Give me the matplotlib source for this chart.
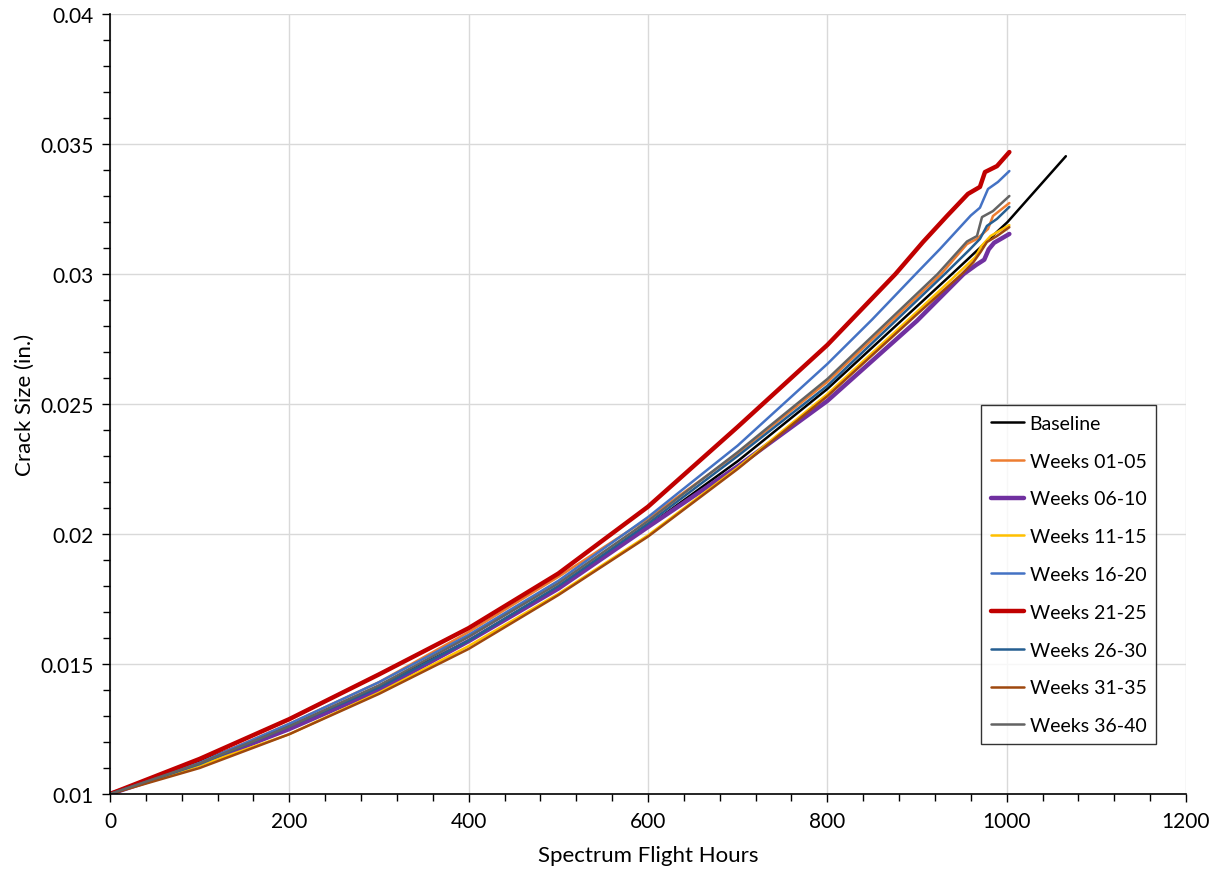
import matplotlib
matplotlib.use("Agg")
import matplotlib.pyplot as plt
from matplotlib.ticker import MultipleLocator, FuncFormatter

plt.rcParams["font.family"] = ["Lato", "DejaVu Sans"]

# Crack growth curves: spectrum flight hours vs. crack size (in.)
series_names = ["Baseline", "Weeks 01-05", "Weeks 06-10", "Weeks 11-15", "Weeks 16-20",
                "Weeks 21-25", "Weeks 26-30", "Weeks 31-35", "Weeks 36-40"]
series_colors = ["#000000", "#ED7D31", "#7030A0", "#FFC000", "#4472C4",
                 "#C00000", "#255E91", "#9E480E", "#636363"]
series_widths = [1.8, 1.8, 3.2, 1.8, 1.8, 3.2, 1.8, 1.8, 1.8]

baseline_hours = [0, 100, 200, 300, 400, 500, 600, 700, 800, 939, 1001, 1066]
baseline_crack = [0.0100, 0.01125, 0.0126, 0.01415, 0.0159, 0.01795, 0.0203, 0.0228,
                  0.02558, 0.0300, 0.0320, 0.03453]

wk01_hours = [0, 100, 200, 300, 400, 500, 600, 700, 800, 927, 955.7, 966.9, 979.2, 984.7, 1003]
wk01_crack = [0.0100, 0.0112, 0.0127, 0.0143, 0.01623, 0.01835, 0.0206, 0.0231, 0.02585,
              0.0300, 0.03115, 0.03135, 0.03173, 0.03223, 0.03273]

wk06_hours = [0, 100, 200, 300, 400, 500, 600, 700, 800, 900, 952, 966, 975, 980, 986, 1003]
wk06_crack = [0.0100, 0.01115, 0.0125, 0.0140, 0.01588, 0.0179, 0.02027, 0.0226, 0.02512,
              0.0282, 0.0300, 0.03035, 0.03055, 0.03095, 0.0312, 0.03154]

wk11_hours = [0, 100, 200, 300, 400, 500, 600, 700, 800, 900, 945, 965, 972, 982, 1003]
wk11_crack = [0.0100, 0.0111, 0.0123, 0.0139, 0.01569, 0.0177, 0.01995, 0.02255, 0.02538,
              0.02855, 0.0300, 0.03065, 0.03108, 0.03146, 0.03188]

wk16_hours = [0, 100, 200, 300, 400, 500, 600, 700, 800, 850, 900, 925.6, 960, 970.2,
              979.2, 990.3, 1003]
wk16_crack = [0.0100, 0.0112, 0.0127, 0.0143, 0.01612, 0.0182, 0.02065, 0.0234, 0.02654,
              0.02825, 0.03005, 0.03096, 0.03225, 0.03255, 0.03327, 0.03354, 0.03396]

wk21_hours = [0, 100, 200, 300, 400, 500, 600, 700, 800, 876, 906.7, 933.4, 956.8, 970.2,
              975.8, 989.2, 1003]
wk21_crack = [0.0100, 0.01135, 0.01288, 0.0146, 0.01638, 0.01848, 0.02105, 0.02412, 0.02727,
              0.0300, 0.03123, 0.03223, 0.03308, 0.03335, 0.03392, 0.03415, 0.03469]

wk26_hours = [0, 100, 200, 300, 400, 500, 600, 700, 800, 931, 959, 970.2, 978, 989.2, 1003]
wk26_crack = [0.0100, 0.01115, 0.0126, 0.0141, 0.0159, 0.0180, 0.0204, 0.0230, 0.0257,
              0.0300, 0.03095, 0.03135, 0.03185, 0.03212, 0.03258]

wk31_hours = [0, 100, 200, 300, 400, 500, 600, 700, 800, 900, 950, 963, 971, 978, 989.2, 1003]
wk31_crack = [0.0100, 0.0110, 0.0123, 0.01385, 0.01558, 0.01765, 0.0199, 0.0225, 0.0253,
              0.02845, 0.0300, 0.03046, 0.03085, 0.03123, 0.03146, 0.0318]

wk36_hours = [0, 100, 200, 300, 400, 500, 600, 700, 800, 923, 955.7, 966.9, 972.5, 984.7, 1003]
wk36_crack = [0.0100, 0.01118, 0.0126, 0.01418, 0.01604, 0.0181, 0.0205, 0.02315, 0.02596,
              0.0300, 0.03125, 0.03146, 0.03219, 0.03242, 0.0330]

hours_list = [baseline_hours, wk01_hours, wk06_hours, wk11_hours, wk16_hours,
              wk21_hours, wk26_hours, wk31_hours, wk36_hours]
crack_list = [baseline_crack, wk01_crack, wk06_crack, wk11_crack, wk16_crack,
              wk21_crack, wk26_crack, wk31_crack, wk36_crack]

W, H = 1217, 878
fig = plt.figure(figsize=(W / 100, H / 100), dpi=100)
ax = fig.add_axes([110 / W, 1 - 795 / H, (1186 - 110) / W, (795 - 15) / H])

for name, color, lw, xs, ys in zip(series_names, series_colors, series_widths,
                                   hours_list, crack_list):
    ax.plot(xs, ys, color=color, lw=lw, label=name, solid_joinstyle="round",
            solid_capstyle="round")

ax.set_xlim(0, 1200)
ax.set_ylim(0.01, 0.04)
ax.xaxis.set_major_locator(MultipleLocator(200))
ax.xaxis.set_minor_locator(MultipleLocator(40))
ax.yaxis.set_major_locator(MultipleLocator(0.005))
ax.yaxis.set_minor_locator(MultipleLocator(0.001))
ax.yaxis.set_major_formatter(FuncFormatter(lambda v, p: f"{v:.3f}".rstrip("0").rstrip(".")))

ax.grid(True, which="major", color="#D9D9D9", lw=1.0)
ax.set_axisbelow(True)
for s in ["top", "right"]:
    ax.spines[s].set_visible(False)
for s in ["left", "bottom"]:
    ax.spines[s].set_color("black")
    ax.spines[s].set_linewidth(1.2)

ax.tick_params(which="both", direction="out", color="black", width=1.0, labelsize=15,
               labelcolor="black")
ax.tick_params(which="major", length=6, pad=6)
ax.tick_params(which="minor", length=5)

ax.set_xlabel("Spectrum Flight Hours", fontsize=16, labelpad=10)
ax.set_ylabel("Crack Size (in.)", fontsize=16, labelpad=4)

leg = ax.legend(loc="upper left", bbox_to_anchor=(981 / W, 1 - 406 / H),
                bbox_transform=fig.transFigure, frameon=True, fancybox=False,
                edgecolor="black", fontsize=14, handlelength=1.7, handletextpad=0.3,
                labelspacing=1.07, borderpad=0.5, borderaxespad=0)
leg.get_frame().set_linewidth(1.0)

fig.savefig("out.png", dpi=100)
